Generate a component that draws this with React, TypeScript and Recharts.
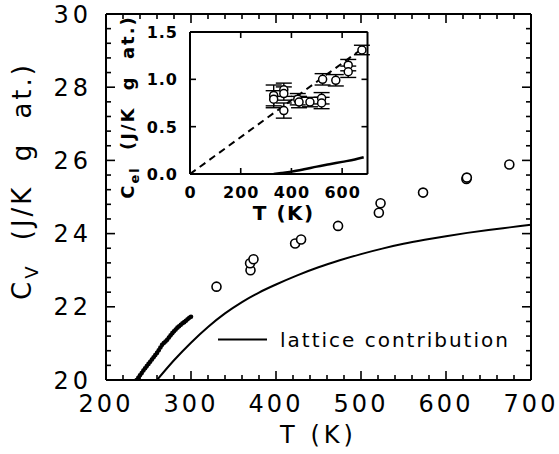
import React from 'react';
import { ComposedChart, XAxis, YAxis, Line, Scatter, ErrorBar } from 'recharts';

// ---------- main plot data ----------
const hiresT = [236, 238, 240, 242, 244, 246, 248, 250, 252, 254, 256, 258, 260, 262, 264, 266, 268, 270, 272, 274, 276, 278, 280, 282, 284, 286, 288, 290, 292, 294, 296, 298, 300];
const hiresCv = [20.0, 20.06, 20.13, 20.19, 20.26, 20.32, 20.38, 20.44, 20.5, 20.56, 20.62, 20.68, 20.74, 20.81, 20.89, 20.96, 21.01, 21.05, 21.1, 21.16, 21.22, 21.28, 21.33, 21.38, 21.43, 21.47, 21.51, 21.55, 21.58, 21.62, 21.66, 21.7, 21.73];

const openT = [330, 370, 369.5, 373.5, 422.5, 429.5, 473, 521, 523, 573, 624, 624.5, 674.5];
const openCv = [22.55, 23.0, 23.19, 23.3, 23.73, 23.84, 24.21, 24.57, 24.83, 25.12, 25.49, 25.53, 25.89];

const latticeT = [260, 280, 300, 320, 340, 360, 380, 400, 425, 450, 475, 500, 525, 550, 575, 600, 625, 650, 675, 700];
const latticeCv = [20.0, 20.54, 21.02, 21.45, 21.82, 22.13, 22.39, 22.61, 22.86, 23.08, 23.27, 23.44, 23.59, 23.72, 23.83, 23.93, 24.02, 24.1, 24.17, 24.24];

const mainXMajor = [200, 300, 400, 500, 600, 700];
const mainYMajor = [20, 22, 24, 26, 28, 30];

// ---------- inset data ----------
const insetT = [330, 330, 370, 370, 370, 425, 430, 473, 519, 519, 523, 575, 624, 624, 678];
const insetC = [0.83, 0.79, 0.89, 0.85, 0.67, 0.79, 0.76, 0.76, 0.8, 0.75, 1.0, 0.99, 1.15, 1.08, 1.31];
const insetErr = [0.11, 0.09, 0.07, 0.07, 0.08, 0.06, 0.06, 0.05, 0.06, 0.06, 0.06, 0.06, 0.06, 0.06, 0.05];

const dashT = [0, 690];
const dashC = [0, 1.345];

const insetLineT = [330, 360, 400, 450, 500, 550, 600, 650, 685];
const insetLineC = [0, 0.01, 0.025, 0.05, 0.078, 0.103, 0.128, 0.153, 0.177];

const insetXTicks = [0, 200, 400, 600];
const insetYTicks = [0, 0.5, 1.0, 1.5];

// ---------- build tables ----------
const hiresData = hiresT.map((T, i) => ({ T, Cv: hiresCv[i] }));
const openData = openT.map((T, i) => ({ T, Cv: openCv[i] }));
const latticeData = latticeT.map((T, i) => ({ T, Cv: latticeCv[i] }));
const insetData = insetT.map((T, i) => ({ T, C: insetC[i], err: insetErr[i] }));
const dashData = dashT.map((T, i) => ({ T, C: dashC[i] }));
const insetLineData = insetLineT.map((T, i) => ({ T, C: insetLineC[i] }));

const mainXTicks: number[] = [];
for (let i = 0; i < mainXMajor.length - 1; i++) {
  for (let k = 0; k < 5; k++) mainXTicks.push(mainXMajor[i] + k * 20);
}
mainXTicks.push(mainXMajor[mainXMajor.length - 1]);
const mainYTicks: number[] = [];
for (let i = 0; i < mainYMajor.length - 1; i++) {
  for (let k = 0; k < 5; k++) mainYTicks.push(Math.round((mainYMajor[i] + k * 0.4) * 10) / 10);
}
mainYTicks.push(mainYMajor[mainYMajor.length - 1]);

const FONT = '"DejaVu Sans", sans-serif';
const isMajorX = (v: number) => mainXMajor.includes(v);
const isMajorY = (v: number) => mainYMajor.includes(v);

// ---------- tick renderers ----------
const MainBottomTick = (p: any) => {
  const { x, y, payload } = p;
  const major = isMajorX(payload.value);
  return (
    <g>
      <line x1={x} y1={y} x2={x} y2={y - (major ? 9 : 5)} stroke="#000" strokeWidth={1.6} />
      {major && (
        <text x={x} y={y + 32} textAnchor="middle" fontSize={24} letterSpacing={3} fontFamily={FONT} fill="#000">
          {payload.value}
        </text>
      )}
    </g>
  );
};
const MainTopTick = (p: any) => {
  const { x, y, payload } = p;
  const major = isMajorX(payload.value);
  return <line x1={x} y1={y} x2={x} y2={y + (major ? 9 : 5)} stroke="#000" strokeWidth={1.6} />;
};
const MainLeftTick = (p: any) => {
  const { x, y, payload } = p;
  const major = isMajorY(payload.value);
  return (
    <g>
      <line x1={x} y1={y} x2={x + (major ? 9 : 5)} y2={y} stroke="#000" strokeWidth={1.6} />
      {major && (
        <text x={x - 14} y={y + 8.5} textAnchor="end" fontSize={24} letterSpacing={4} fontFamily={FONT} fill="#000">
          {payload.value}
        </text>
      )}
    </g>
  );
};
const MainRightTick = (p: any) => {
  const { x, y, payload } = p;
  const major = isMajorY(payload.value);
  return <line x1={x} y1={y} x2={x - (major ? 9 : 5)} y2={y} stroke="#000" strokeWidth={1.6} />;
};

const InsetBottomTick = (p: any) => {
  const { x, y, payload } = p;
  return (
    <g>
      <line x1={x} y1={y} x2={x} y2={y - 6} stroke="#000" strokeWidth={1.6} />
      <text x={x + 0.5} y={y + 24} textAnchor="middle" fontSize={16} fontWeight="bold" letterSpacing={1} fontFamily={FONT} fill="#000">
        {payload.value}
      </text>
    </g>
  );
};
const InsetTopTick = (p: any) => {
  const { x, y } = p;
  return <line x1={x} y1={y} x2={x} y2={y + 6} stroke="#000" strokeWidth={1.6} />;
};
const InsetLeftTick = (p: any) => {
  const { x, y, payload } = p;
  return (
    <g>
      <line x1={x} y1={y} x2={x + 6} y2={y} stroke="#000" strokeWidth={1.6} />
      <text x={x - 12} y={y + 6} textAnchor="end" fontSize={16} fontWeight="bold" letterSpacing={1} fontFamily={FONT} fill="#000">
        {Number(payload.value).toFixed(1)}
      </text>
    </g>
  );
};
const InsetRightTick = (p: any) => {
  const { x, y } = p;
  return <line x1={x} y1={y} x2={x - 6} y2={y} stroke="#000" strokeWidth={1.6} />;
};

// ---------- markers ----------
const FilledDot = (p: any) => <circle cx={p.cx} cy={p.cy} r={2.3} fill="#000" />;
const OpenCircle = (p: any) => <circle cx={p.cx} cy={p.cy} r={4.5} fill="#fff" stroke="#000" strokeWidth={1.6} />;
const InsetCircle = (p: any) => <circle cx={p.cx} cy={p.cy} r={4} fill="#fff" stroke="#000" strokeWidth={1.5} />;

const axisLine = { stroke: '#000', strokeWidth: 2 };

export default function App() {
  return (
    <div style={{ position: 'absolute', left: 0, top: 0, width: 559, height: 454, background: '#fff' }}>
      {/* main chart */}
      <div style={{ position: 'absolute', left: 0, top: 0 }}>
        <ComposedChart width={559} height={454} margin={{ top: 13, right: 27, bottom: 73, left: 105 }}>
          <XAxis
            xAxisId="b"
            type="number"
            dataKey="T"
            domain={[200, 700]}
            ticks={mainXTicks}
            interval={0}
            allowDataOverflow
            height={1}
            tickSize={0}
            tickMargin={0}
            tickLine={false}
            axisLine={axisLine}
            tick={<MainBottomTick />}
            label={(lp: any) => {
              const vb = lp.viewBox || { x: 106, y: 380, width: 425 };
              return (
                <text x={vb.x + vb.width / 2} y={vb.y + 63} textAnchor="middle" fontSize={24} letterSpacing={4} fontFamily={FONT} fill="#000">
                  T (K)
                </text>
              );
            }}
          />
          <XAxis
            xAxisId="t"
            orientation="top"
            type="number"
            dataKey="T"
            domain={[200, 700]}
            ticks={mainXTicks}
            interval={0}
            allowDataOverflow
            height={1}
            tickSize={0}
            tickMargin={0}
            tickLine={false}
            axisLine={axisLine}
            tick={<MainTopTick />}
          />
          <YAxis
            yAxisId="l"
            type="number"
            domain={[20, 30]}
            ticks={mainYTicks}
            interval={0}
            allowDataOverflow
            width={1}
            tickSize={0}
            tickMargin={0}
            tickLine={false}
            axisLine={axisLine}
            tick={<MainLeftTick />}
            label={() => (
              <text
                x={31}
                y={181}
                transform="rotate(-90, 31, 181)"
                textAnchor="middle"
                fontSize={26}
                letterSpacing={3}
                wordSpacing={12}
                fontFamily={FONT}
                fill="#000"
              >
                C<tspan dy={7} fontSize={18}>V</tspan>
                <tspan dy={-7}> (J/K g at.)</tspan>
              </text>
            )}
          />
          <YAxis
            yAxisId="r"
            orientation="right"
            type="number"
            domain={[20, 30]}
            ticks={mainYTicks}
            interval={0}
            allowDataOverflow
            width={1}
            tickSize={0}
            tickMargin={0}
            tickLine={false}
            axisLine={axisLine}
            tick={<MainRightTick />}
          />
          <Line
            xAxisId="b"
            yAxisId="l"
            data={latticeData}
            dataKey="Cv"
            type="monotone"
            stroke="#000"
            strokeWidth={2}
            dot={false}
            isAnimationActive={false}
          />
          <Scatter xAxisId="b" yAxisId="l" data={hiresData} dataKey="Cv" shape={<FilledDot />} isAnimationActive={false} />
          <Scatter xAxisId="b" yAxisId="l" data={openData} dataKey="Cv" shape={<OpenCircle />} isAnimationActive={false} />
        </ComposedChart>
      </div>

      {/* inset chart */}
      <div style={{ position: 'absolute', left: 0, top: 0 }}>
        <ComposedChart width={559} height={454} margin={{ top: 31, right: 190.5, bottom: 279, left: 189 }}>
          <XAxis
            xAxisId="b"
            type="number"
            dataKey="T"
            domain={[0, 700]}
            ticks={insetXTicks}
            interval={0}
            allowDataOverflow
            height={1}
            tickSize={0}
            tickMargin={0}
            tickLine={false}
            axisLine={axisLine}
            tick={<InsetBottomTick />}
            label={(lp: any) => {
              const vb = lp.viewBox || { x: 190, y: 174, width: 177.5 };
              return (
                <text x={vb.x + vb.width / 2 + 5} y={vb.y + 46} textAnchor="middle" fontSize={20} fontWeight="bold" letterSpacing={1.5} fontFamily={FONT} fill="#000">
                  T (K)
                </text>
              );
            }}
          />
          <XAxis
            xAxisId="t"
            orientation="top"
            type="number"
            dataKey="T"
            domain={[0, 700]}
            ticks={insetXTicks}
            interval={0}
            allowDataOverflow
            height={1}
            tickSize={0}
            tickMargin={0}
            tickLine={false}
            axisLine={axisLine}
            tick={<InsetTopTick />}
          />
          <YAxis
            yAxisId="l"
            type="number"
            domain={[0, 1.5]}
            ticks={insetYTicks}
            interval={0}
            allowDataOverflow
            width={1}
            tickSize={0}
            tickMargin={0}
            tickLine={false}
            axisLine={axisLine}
            tick={<InsetLeftTick />}
            label={() => (
              <text
                x={134}
                y={107}
                transform="rotate(-90, 134, 107)"
                textAnchor="middle"
                fontSize={18}
                fontWeight="bold"
                letterSpacing={2}
                wordSpacing={8}
                fontFamily={FONT}
                fill="#000"
              >
                C<tspan dy={5} fontSize={13}>el</tspan>
                <tspan dy={-5}> (J/K g at.)</tspan>
              </text>
            )}
          />
          <YAxis
            yAxisId="r"
            orientation="right"
            type="number"
            domain={[0, 1.5]}
            ticks={insetYTicks}
            interval={0}
            allowDataOverflow
            width={1}
            tickSize={0}
            tickMargin={0}
            tickLine={false}
            axisLine={axisLine}
            tick={<InsetRightTick />}
          />
          <Line
            xAxisId="b"
            yAxisId="l"
            data={dashData}
            dataKey="C"
            type="linear"
            stroke="#000"
            strokeWidth={2}
            strokeDasharray="7 5"
            dot={false}
            isAnimationActive={false}
          />
          <Line
            xAxisId="b"
            yAxisId="l"
            data={insetLineData}
            dataKey="C"
            type="monotone"
            stroke="#000"
            strokeWidth={2.5}
            dot={false}
            isAnimationActive={false}
          />
          <Scatter xAxisId="b" yAxisId="l" data={insetData} dataKey="C" shape={<InsetCircle />} isAnimationActive={false}>
            <ErrorBar dataKey="err" direction="y" width={8} stroke="#000" strokeWidth={1.4} isAnimationActive={false} />
          </Scatter>
        </ComposedChart>
      </div>

      {/* legend */}
      <svg width={559} height={454} style={{ position: 'absolute', left: 0, top: 0, pointerEvents: 'none' }}>
        <line x1={218} y1={339.5} x2={267} y2={339.5} stroke="#000" strokeWidth={2} />
        <text x={280} y={347} fontSize={20} letterSpacing={2} fontFamily={FONT} fill="#000">
          lattice contribution
        </text>
      </svg>
    </div>
  );
}
